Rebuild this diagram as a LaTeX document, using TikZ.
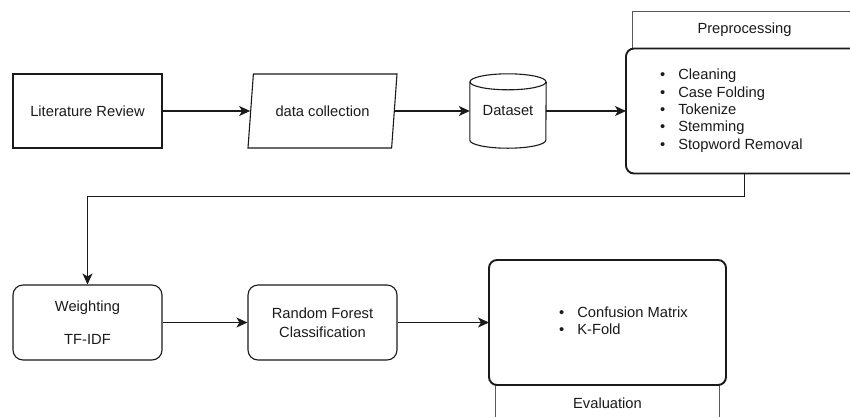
\documentclass[tikz,border=0pt]{standalone}
\usepackage{fontspec}
\setmainfont{Liberation Sans}
\usetikzlibrary{arrows.meta, calc, positioning, shapes.geometric}
\definecolor{flowink}{HTML}{1A1A1A}
\definecolor{headink}{HTML}{5A5A5A}
\newcommand{\bulletlist}[1]{\begin{tabular}{@{}l@{\hspace{13pt}}l@{}}#1\end{tabular}}
\tikzset{
  flowtext/.style  = {font=\fontsize{14.7}{19}\selectfont, text=flowink, align=center},
  stepbox/.style   = {flowtext, rectangle, draw=flowink, line width=1.1pt,
                      minimum width=149pt, minimum height=74pt, inner sep=0pt},
  roundbox/.style  = {stepbox, rounded corners=10pt, minimum height=75pt},
  databox/.style   = {flowtext, trapezium, draw=flowink, line width=1.1pt,
                      trapezium left angle=71.3, trapezium right angle=108.7,
                      trapezium stretches=true, minimum width=149pt,
                      minimum height=74pt, inner sep=0pt},
  dbnode/.style    = {flowtext, minimum width=76pt, minimum height=74pt, inner sep=0pt},
  dbline/.style    = {draw=flowink, line width=1.1pt},
  groupbox/.style  = {draw=flowink, fill=white, line width=1.9pt, rounded corners=8pt,
                      minimum width=237pt, minimum height=125pt, inner sep=0pt,
                      outer sep=0pt},
  grouphead/.style = {flowtext, draw=headink, fill=white, line width=0.8pt,
                      minimum width=224pt, minimum height=37pt, inner sep=0pt,
                      outer sep=0pt},
  bullets/.style   = {font=\fontsize{14.7}{17.4}\selectfont, text=flowink, inner sep=0pt},
  flow/.style      = {draw=flowink, line width=1.1pt,
                      -{Stealth[length=11pt, width=10pt, inset=3pt]}},
}
\begin{document}
\begin{tikzpicture}[x=1pt, y=-1pt]
  \useasboundingbox (0,0) rectangle (850,416);
  \node[stepbox] (litrev)  at (87.5,111)  {Literature Review};
  \node[databox] (collect) at (322.5,111) {data collection};
  \node[dbnode]  (dataset) at (508,111)   {Dataset};
  \draw[dbline] ($(dataset.north west)+(0,8)$) -- ($(dataset.south west)+(0,-8)$)
    arc[start angle=180, end angle=360, x radius=38pt, y radius=8pt]
    -- ($(dataset.north east)+(0,8)$);
  \draw[dbline, fill=white] ($(dataset.north)+(0,8)$) ellipse[x radius=38pt, y radius=8pt];
  \node[grouphead] (prephead) at (744.5,30) {Preprocessing};
  \node[groupbox, below=0pt of prephead] (prep) {};
  \node[bullets, right=34pt of prep.west] (preplist)
    {\bulletlist{\textbullet & Cleaning\\ \textbullet & Case Folding\\
      \textbullet & Tokenize\\ \textbullet & Stemming\\ \textbullet & Stopword Removal}};
  \node[roundbox] (weight) at (87.5,322.5)  {Weighting\\[14pt]TF-IDF};
  \node[roundbox] (rf)     at (322.5,322.5) {Random Forest\\Classification};
  \node[grouphead] (evalhead) at (607.5,403.5) {Evaluation};
  \node[groupbox, above=0pt of evalhead] (eval) {};
  \node[bullets, right=70pt of eval.west] (evallist)
    {\bulletlist{\textbullet & Confusion Matrix\\ \textbullet & K-Fold}};
  \foreach \a/\b in {litrev/collect, collect/dataset, dataset/prep, weight/rf, rf/eval}
    {\draw[flow] (\a.east) -- (\a.east -| \b.west);}
  \draw[flow] (prep.south) -- ++(0,23) -| (weight.north);
\end{tikzpicture}
\end{document}
